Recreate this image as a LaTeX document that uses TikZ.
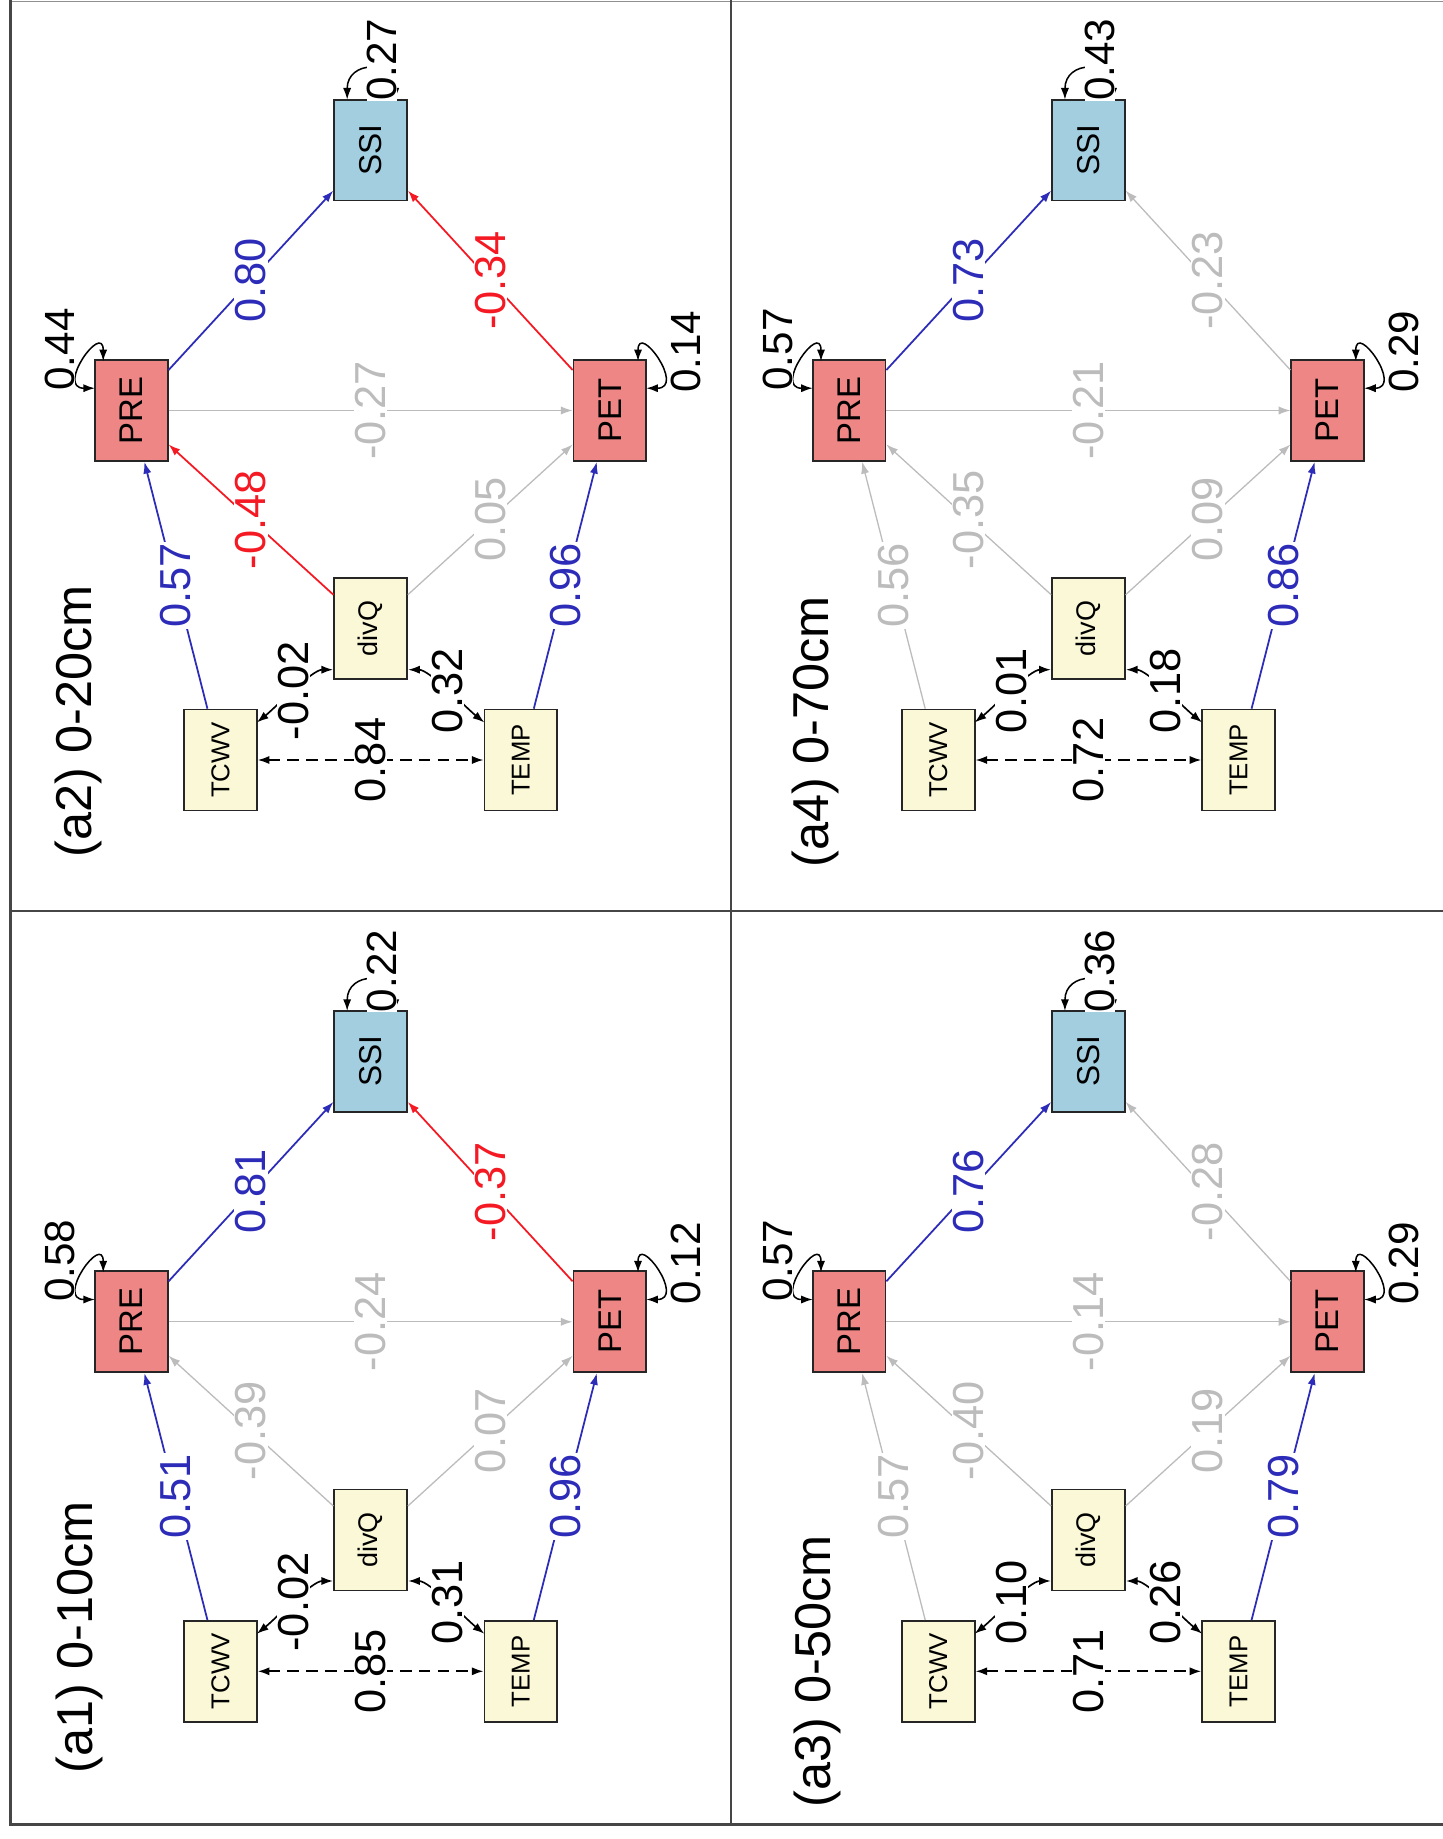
\documentclass[tikz,border=0pt]{standalone}
\usepackage{fontspec}
\setmainfont{Liberation Sans}
\usetikzlibrary{arrows.meta,calc}
\definecolor{endoC}{RGB}{238,134,134}
\definecolor{ssiC}{RGB}{162,206,224}
\definecolor{exoC}{RGB}{250,248,214}
\definecolor{pblue}{RGB}{44,44,185}
\definecolor{pred}{RGB}{245,25,35}
\definecolor{pgray}{RGB}{188,188,188}
\definecolor{frameC}{RGB}{70,70,70}
\tikzset{
  x=1pt, y=-1pt,
  box/.style={draw=black!85, line width=1.5pt, rotate=90, minimum width=86pt, minimum height=62pt, inner sep=0pt},
  endo/.style={box, fill=endoC, font=\fontsize{28}{28}\selectfont},
  ssibox/.style={box, fill=ssiC, font=\fontsize{27}{27}\selectfont},
  exo/.style={box, fill=exoC},
  tip/.tip={Latex[length=10pt,width=7pt]},
  eb/.style={color=pblue, line width=1.5pt, -tip},
  er/.style={color=pred, line width=1.5pt, -tip},
  eg/.style={color=pgray, line width=1.1pt, -tip},
  cov/.style={color=black, line width=1.4pt, tip-tip},
  dcov/.style={cov, dash pattern=on 10pt off 6pt},
  resid/.style={color=black, line width=1.3pt, tip-tip},
  lab/.style={fill=white, inner sep=1pt, rotate=90, font=\fontsize{37}{37}\selectfont},
  rlab/.style={fill=white, inner sep=0pt, rotate=90, font=\fontsize{36}{36}\selectfont},
  ttl/.style={inner sep=0pt, rotate=90, font=\fontsize{43}{43}\selectfont},
  frame/.style={draw=frameC, line width=2pt},
}
% #1 prefix, #2 x offset, #3 y offset, #4 title, #5 title position
\newcommand{\drawpanel}[5]{%
  \node[endo] (#1pre) at (#2+112,#3+350) {PRE};
  \node[endo] (#1pet) at (#2+520,#3+350) {PET};
  \node[ssibox] (#1ssi) at (#2+316,#3+128) {SSI};
  \node[exo, font=\fontsize{23}{23}\selectfont] (#1divq) at (#2+316,#3+536) {divQ};
  \node[exo, font=\fontsize{22}{22}\selectfont] (#1tcwv) at (#2+188,#3+648) {TCWV};
  \node[exo, font=\fontsize{22}{22}\selectfont] (#1temp) at (#2+444,#3+648) {TEMP};
  \draw[sTP] (#1tcwv) -- node[lab] (#1lTP) {\vTP} (#1pre);
  \draw[sDP] (#1divq) -- node[lab] (#1lDP) {\vDP} (#1pre);
  \draw[sPP] (#1pre) -- node[lab] (#1lPP) {\vPP} (#1pet);
  \draw[sDE] (#1divq) -- node[lab] (#1lDE) {\vDE} (#1pet);
  \draw[sTE] (#1temp) -- node[lab] (#1lTE) {\vTE} (#1pet);
  \draw[sPS] (#1pre) -- node[lab] (#1lPS) {\vPS} (#1ssi);
  \draw[sES] (#1pet) -- node[lab] (#1lES) {\vES} (#1ssi);
  \draw[dcov] (#1tcwv) -- node[lab] (#1lTT) {\vTT} (#1temp);
  \draw[cov] ($(#1tcwv)+(31,-32)$) .. controls +(15,-12) and +(-18,0) .. ($(#1divq)+(-32,35)$)
     node[lab, pos=0.5] (#1lTD) {\vTD};
  \draw[cov] ($(#1divq)+(32,35)$) .. controls +(18,0) and +(-15,-12) .. ($(#1temp)+(-31,-32)$)
     node[lab, pos=0.5] (#1lDT) {\vDT};
  \draw[resid] ($(#1pre)+(-24,-42)$) .. controls +(0,-34) and +(-34,0) .. ($(#1pre)+(-31,-19)$);
  \node[rlab] (#1rPRE) at ($(#1pre)+(-61,-52)$) {\rPRE};
  \draw[resid] ($(#1pet)+(24,-42)$) .. controls +(0,-34) and +(34,0) .. ($(#1pet)+(31,-19)$);
  \node[rlab] (#1rPET) at ($(#1pet)+(65,-50)$) {\rPET};
  \draw[resid] ($(#1ssi)+(-20,-43)$) .. controls +(0,-34) and +(0,-34) .. ($(#1ssi)+(21,-43)$);
  \node[rlab] (#1rSSI) at ($(#1ssi)+(10,-77)$) {\rSSI};
  \node[ttl] (#1title) at (#5) {#4};
}
\begin{document}
\begin{tikzpicture}
\useasboundingbox[fill=white] (0,0) rectangle (1230,1568);
% frame
\draw[draw=frameC!60, line width=1.2pt] (9,1.5) -- (1230,1.5);
\draw[frame] (9,0) -- (9,1557);
\draw[frame] (623,0) -- (623,1557);
\draw[frame] (9,777) -- (1230,777);
\draw[frame, line width=2.6pt] (9,1556) -- (1230,1556);
% a2 (top left)
\tikzset{sTP/.style=eb, sDP/.style=er, sPP/.style=eg, sDE/.style=eg, sTE/.style=eb, sPS/.style=eb, sES/.style=er}
\def\vTP{0.57}\def\vDP{-0.48}\def\vPP{-0.27}\def\vDE{0.05}\def\vTE{0.96}\def\vPS{0.80}\def\vES{-0.34}
\def\vTT{0.84}\def\vTD{-0.02}\def\vDT{0.32}\def\rPRE{0.44}\def\rPET{0.14}\def\rSSI{0.27}
\drawpanel{a2}{0}{0}{(a2) 0-20cm}{67,615}
% a1 (bottom left)
\tikzset{sTP/.style=eb, sDP/.style=eg, sPP/.style=eg, sDE/.style=eg, sTE/.style=eb, sPS/.style=eb, sES/.style=er}
\def\vTP{0.51}\def\vDP{-0.39}\def\vPP{-0.24}\def\vDE{0.07}\def\vTE{0.96}\def\vPS{0.81}\def\vES{-0.37}
\def\vTT{0.85}\def\vTD{-0.02}\def\vDT{0.31}\def\rPRE{0.58}\def\rPET{0.12}\def\rSSI{0.22}
\drawpanel{a1}{0}{777}{(a1) 0-10cm}{68,1396}
% a4 (top right)
\tikzset{sTP/.style=eg, sDP/.style=eg, sPP/.style=eg, sDE/.style=eg, sTE/.style=eb, sPS/.style=eb, sES/.style=eg}
\def\vTP{0.56}\def\vDP{-0.35}\def\vPP{-0.21}\def\vDE{0.09}\def\vTE{0.86}\def\vPS{0.73}\def\vES{-0.23}
\def\vTT{0.72}\def\vTD{0.01}\def\vDT{0.18}\def\rPRE{0.57}\def\rPET{0.29}\def\rSSI{0.43}
\drawpanel{a4}{612}{0}{(a4) 0-70cm}{695,624}
% a3 (bottom right)
\tikzset{sTP/.style=eg, sDP/.style=eg, sPP/.style=eg, sDE/.style=eg, sTE/.style=eb, sPS/.style=eb, sES/.style=eg}
\def\vTP{0.57}\def\vDP{-0.40}\def\vPP{-0.14}\def\vDE{0.19}\def\vTE{0.79}\def\vPS{0.76}\def\vES{-0.28}
\def\vTT{0.71}\def\vTD{0.10}\def\vDT{0.26}\def\rPRE{0.57}\def\rPET{0.29}\def\rSSI{0.36}
\drawpanel{a3}{612}{777}{(a3) 0-50cm}{697,1425}
\end{tikzpicture}
\end{document}
